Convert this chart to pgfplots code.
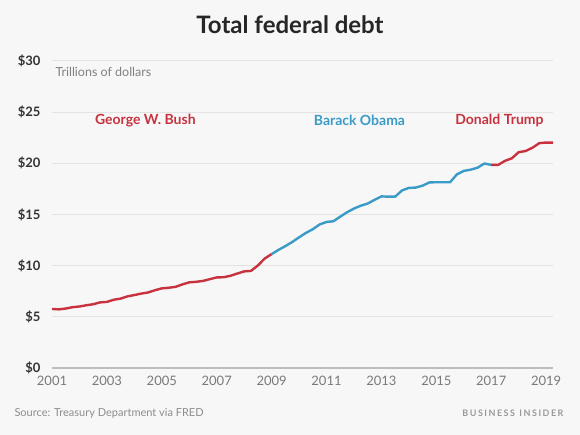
\documentclass[border=0pt]{standalone}
\usepackage{pgfplots}
\pgfplotsset{compat=1.18}
\usepackage{fontspec}
\setmainfont{Lato}
\definecolor{bg}{HTML}{F7F7F7}
\definecolor{bired}{HTML}{C8323F}
\definecolor{biblue}{HTML}{3A9BC6}
\definecolor{gridc}{HTML}{E3E3E3}
\definecolor{zeroc}{HTML}{BDBDBD}
\definecolor{ticky}{HTML}{333333}
\definecolor{tickx}{HTML}{7A7A7A}
\begin{document}
\begin{tikzpicture}[x=1pt,y=1pt]
\fill[bg] (0,0) rectangle (580,435);
\useasboundingbox (0,0) rectangle (580,435);
\node[font=\fontsize{24}{26}\selectfont\bfseries, text=black!85] at (290,410) {Total federal debt};
\begin{axis}[
  at={(52pt,67pt)}, anchor=south west,
  scale only axis, width=501pt, height=307pt,
  xmin=2001, xmax=2019.25, ymin=0, ymax=30,
  axis line style={draw=none},
  tick style={draw=none},
  ytick={0,5,10,15,20,25,30},
  yticklabels={\$0,\$5,\$10,\$15,\$20,\$25,\$30},
  xtick={2001,2003,2005,2007,2009,2011,2013,2015,2017,2019},
  xticklabels={2001,2003,2005,2007,2009,2011,2013,2015,2017,2019},
  yticklabel style={font=\fontsize{13}{14}\selectfont\bfseries, text=ticky, xshift=-8pt},
  xticklabel style={font=\fontsize{13}{14}\selectfont, text=tickx, yshift=-5pt},
  ymajorgrids, major grid style={draw=gridc, line width=1pt},
  clip=false,
]
\draw[zeroc, line width=1.6pt] (axis cs:2001,0) -- (axis cs:2019.25,0);
\addplot[bired, line width=2.4pt, line join=round] coordinates {
(2001.00,5.77) (2001.25,5.73) (2001.50,5.81) (2001.75,5.94)
(2002.00,6.01) (2002.25,6.13) (2002.50,6.23) (2002.75,6.41)
(2003.00,6.46) (2003.25,6.67) (2003.50,6.78) (2003.75,7.00)
(2004.00,7.13) (2004.25,7.27) (2004.50,7.38) (2004.75,7.60)
(2005.00,7.78) (2005.25,7.84) (2005.50,7.93) (2005.75,8.17)
(2006.00,8.37) (2006.25,8.42) (2006.50,8.51) (2006.75,8.68)
(2007.00,8.85) (2007.25,8.87) (2007.50,9.01) (2007.75,9.23)
(2008.00,9.44) (2008.25,9.49) (2008.50,10.02) (2008.75,10.70)
(2009.00,11.13)
};
\addplot[biblue, line width=2.4pt, line join=round] coordinates {
(2009.00,11.13) (2009.25,11.54) (2009.50,11.91) (2009.75,12.31)
(2010.00,12.77) (2010.25,13.20) (2010.50,13.56) (2010.75,14.03)
(2011.00,14.27) (2011.25,14.34) (2011.50,14.79) (2011.75,15.22)
(2012.00,15.58) (2012.25,15.86) (2012.50,16.07) (2012.75,16.43)
(2013.00,16.77) (2013.25,16.74) (2013.50,16.74) (2013.75,17.35)
(2014.00,17.60) (2014.25,17.63) (2014.50,17.82) (2014.75,18.14)
(2015.00,18.15) (2015.25,18.15) (2015.50,18.15) (2015.75,18.92)
(2016.00,19.26) (2016.25,19.38) (2016.50,19.57) (2016.75,19.98)
(2017.00,19.85)
};
\addplot[bired, line width=2.4pt, line join=round] coordinates {
(2017.00,19.85) (2017.25,19.84) (2017.50,20.24) (2017.75,20.49)
(2018.00,21.09) (2018.25,21.20) (2018.50,21.52) (2018.75,21.97)
(2019.00,22.03) (2019.25,22.02)
};
\node[anchor=west, font=\fontsize{12.5}{14}\selectfont, text=black!50] at (axis cs:2001,28.9) {Trillions of dollars};
\node[font=\fontsize{14}{16}\selectfont\bfseries, text=bired] at (axis cs:2004.4,24.2) {George W. Bush};
\node[font=\fontsize{14}{16}\selectfont\bfseries, text=biblue] at (axis cs:2012.2,24.2) {Barack Obama};
\node[font=\fontsize{14}{16}\selectfont\bfseries, text=bired] at (axis cs:2017.3,24.2) {Donald Trump};
\end{axis}
\node[anchor=west, font=\fontsize{11}{12}\selectfont, text=black!45] at (11,22) {Source: Treasury Department via FRED};
\node[anchor=east, font=\fontsize{9}{10}\selectfont\bfseries, text=black!40] at (567,22) {B\,U\,S\,I\,N\,E\,S\,S\ \ I\,N\,S\,I\,D\,E\,R};
\end{tikzpicture}
\end{document}
